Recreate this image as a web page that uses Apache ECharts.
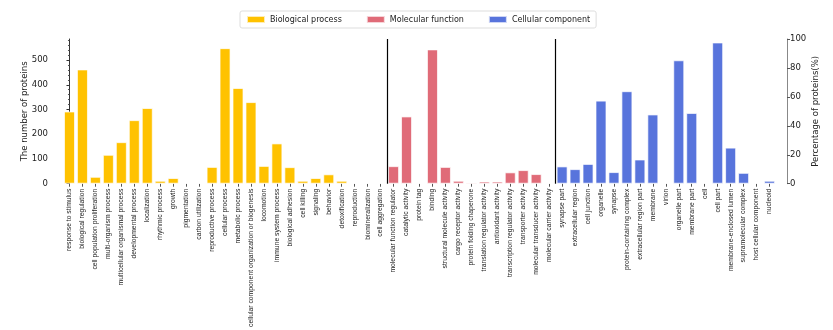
<!DOCTYPE html>
<html>
<head>
<meta charset="utf-8">
<title>GO annotation</title>
<script src="https://cdn.jsdelivr.net/npm/echarts@6/dist/echarts.min.js"></script>
<style>
  html, body { margin: 0; padding: 0; background: #fff; }
  #main { width: 833px; height: 330px; }
</style>
</head>
<body>
<div id="main"></div>
<script>
// 三个大类的条目与蛋白数
var bpNames = ['response to stimulus', 'biological regulation', 'cell population proliferation', 'multi-organism process',
  'multicellular organismal process', 'developmental process', 'localization', 'rhythmic process', 'growth',
  'pigmentation', 'carbon utilization', 'reproductive process', 'cellular process', 'metabolic process',
  'cellular component organization or biogenesis', 'locomotion', 'immune system process', 'biological adhesion',
  'cell killing', 'signaling', 'behavior', 'detoxification', 'reproduction', 'biomineralization', 'cell aggregation'];
var bpValues = [292, 462, 28, 117, 168, 257, 306, 12, 23, 4, 4, 68, 548, 387, 330, 72, 163, 67, 12, 23, 38, 12, 3, 3, 3];

var mfNames = ['molecular function regulator', 'catalytic activity', 'protein tag', 'binding', 'structural molecule activity',
  'cargo receptor activity', 'protein folding chaperone', 'translation regulator activity', 'antioxidant activity',
  'transcription regulator activity', 'transporter activity', 'molecular transducer activity', 'molecular carrier activity'];
var mfValues = [71, 272, 4, 543, 68, 12, 5, 9, 9, 46, 55, 39, 3];

var ccNames = ['synapse part', 'extracellular region', 'cell junction', 'organelle', 'synapse', 'protein-containing complex',
  'extracellular region part', 'membrane', 'virion', 'organelle part', 'membrane part', 'cell', 'cell part',
  'membrane-enclosed lumen', 'supramolecular complex', 'host cellular component', 'nucleoid'];
var ccValues = [70, 59, 80, 336, 47, 374, 98, 280, 4, 499, 286, 4, 571, 146, 44, 4, 12];

var groupNames = ['Biological process', 'Molecular function', 'Cellular component'];
var groupColors = ['#FFC200', '#E06B78', '#5874DC'];

var totalProteins = 585;        // 百分比轴的 100% 对应的蛋白数
var countTicks = [0, 100, 200, 300, 400, 500];

var allNames = bpNames.concat(mfNames, ccNames);
var groups = [bpValues, mfValues, ccValues];

// 每个大类一个系列，其他位置填空
function buildSeriesData(idx) {
  var out = [];
  groups.forEach(function (vals, g) {
    vals.forEach(function (v) {
      out.push(g === idx ? v : '-');
    });
  });
  return out;
}

var sep1 = bpNames.length - 0.5;
var sep2 = bpNames.length + mfNames.length - 0.5;

var chart = echarts.init(document.getElementById('main'));

var barSeries = groupNames.map(function (name, i) {
  return {
    name: name,
    type: 'bar',
    xAxisIndex: 0,
    yAxisIndex: 0,
    barGap: '-100%',
    barCategoryGap: '15%',
    itemStyle: {
      color: groupColors[i],
      borderColor: 'rgba(255,255,255,0.7)',
      borderWidth: 1
    },
    data: buildSeriesData(i)
  };
});

// 分隔线
barSeries.push({
  name: 'sep',
  type: 'line',
  xAxisIndex: 1,
  yAxisIndex: 0,
  data: [],
  silent: true,
  markLine: {
    silent: true,
    symbol: 'none',
    label: { show: false },
    lineStyle: { color: '#000', width: 1.2, type: 'solid' },
    data: [{ xAxis: sep1 }, { xAxis: sep2 }]
  }
});

chart.setOption({
  animation: false,
  textStyle: { fontFamily: 'DejaVu Sans' },
  legend: {
    data: groupNames,
    left: 240,
    top: 11,
    itemWidth: 18,
    itemHeight: 7,
    itemGap: 24,
    padding: [4, 6, 4, 6],
    borderColor: '#dddddd',
    borderWidth: 1,
    borderRadius: 2,
    icon: 'rect',
    textStyle: { fontSize: 8, color: '#222', fontFamily: 'DejaVu Sans' }
  },
  grid: {
    left: 63,
    right: 57,
    top: 39,
    bottom: 146
  },
  xAxis: [{
    type: 'category',
    data: allNames,
    axisLine: { show: false },
    axisTick: { show: true, alignWithLabel: true, length: 3, lineStyle: { color: '#555' } },
    axisLabel: {
      interval: 0,
      rotate: 90,
      margin: 5,
      fontSize: 6.8,
      color: '#222',
      fontFamily: 'Liberation Sans'
    }
  }, {
    type: 'value',
    min: -0.5,
    max: allNames.length - 0.5,
    show: false
  }],
  yAxis: [{
    type: 'value',
    name: 'The number of proteins',
    nameLocation: 'middle',
    nameGap: 23,
    nameMoveOverlap: false,
    nameTextStyle: { fontSize: 8.5, color: '#222' },
    min: 0,
    max: totalProteins,
    interval: 100,
    offset: 11,
    axisLine: { show: true, lineStyle: { color: '#333' } },
    axisTick: { show: true, length: 3, customValues: countTicks, lineStyle: { color: '#333' } },
    minorTick: { show: true, splitNumber: 5, length: 1.5, lineStyle: { color: '#555' } },
    axisLabel: {
      customValues: countTicks,
      fontSize: 8.5,
      color: '#222',
      margin: 4
    },
    splitLine: { show: false }
  }, {
    type: 'value',
    name: 'Percentage of proteins(%)',
    nameLocation: 'middle',
    nameGap: 24,
    nameMoveOverlap: false,
    nameRotate: 90,
    nameTextStyle: { fontSize: 8.5, color: '#222' },
    min: 0,
    max: 100,
    interval: 20,
    offset: 11,
    position: 'right',
    axisLine: { show: true, lineStyle: { color: '#888' } },
    axisTick: { show: true, length: 3, lineStyle: { color: '#555' } },
    axisLabel: { fontSize: 8.5, color: '#222', margin: 3 },
    splitLine: { show: false }
  }],
  series: barSeries
});
</script>
</body>
</html>
